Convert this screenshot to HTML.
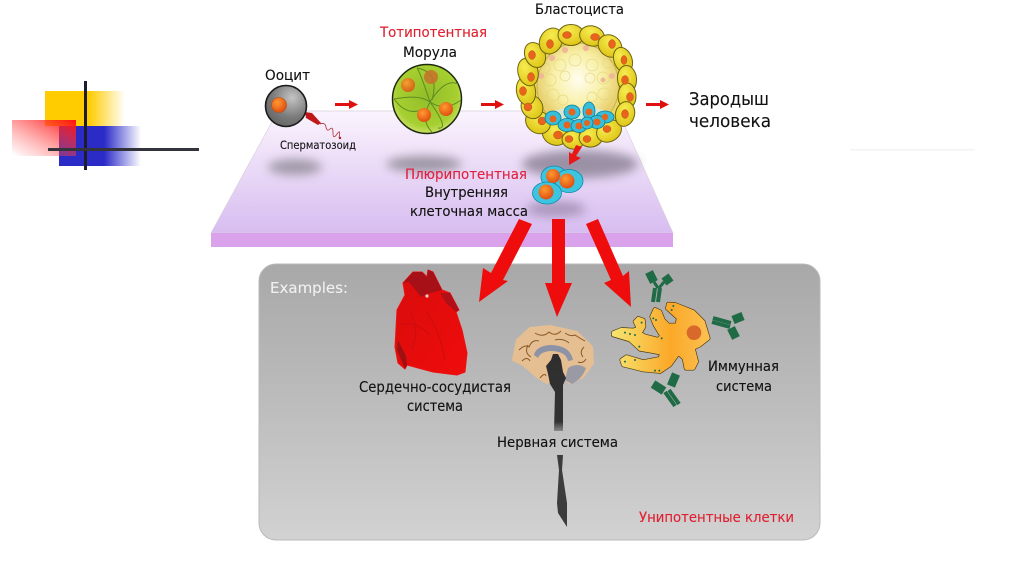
<!DOCTYPE html>
<html><head><meta charset="utf-8"><style>
html,body{margin:0;padding:0;background:#fff;width:1024px;height:574px;overflow:hidden}
svg{display:block}
text{font-family:"DejaVu Sans","Liberation Sans",sans-serif;stroke:currentColor;stroke-width:.12}
</style></head><body>
<svg width="1024" height="574" viewBox="0 0 1024 574" xmlns="http://www.w3.org/2000/svg">
<defs>
<linearGradient id="y" x1="0" x2="1" y1="0" y2="0"><stop offset=".55" stop-color="#ffcc00"/><stop offset="1" stop-color="#ffcc00" stop-opacity="0"/></linearGradient>
<linearGradient id="b" x1="0" x2="1" y1="0" y2="0"><stop offset=".55" stop-color="#2b2bc8"/><stop offset="1" stop-color="#2b2bc8" stop-opacity="0"/></linearGradient>
<linearGradient id="r" x1="1" x2="0" y1="0" y2="1"><stop offset="0" stop-color="#ff1010"/><stop offset=".9" stop-color="#ff6060" stop-opacity=".12"/><stop offset="1" stop-color="#fff" stop-opacity="0"/></linearGradient>
<linearGradient id="pl" x1="0" x2="0" y1="0" y2="1"><stop offset="0" stop-color="#fbf4fd"/><stop offset="1" stop-color="#d7bdf0"/></linearGradient>
<linearGradient id="pn" x1="0" x2="0" y1="0" y2="1"><stop offset="0" stop-color="#a9a8a9"/><stop offset=".5" stop-color="#bdbcbd"/><stop offset="1" stop-color="#d2d2d2"/></linearGradient>
<radialGradient id="gr" cx=".65" cy=".3" r=".85"><stop offset="0" stop-color="#c4c4c4"/><stop offset=".55" stop-color="#7c7c7c"/><stop offset="1" stop-color="#5c5c5c"/></radialGradient>
<radialGradient id="or" cx=".4" cy=".35" r=".7"><stop offset="0" stop-color="#ff9a30"/><stop offset="1" stop-color="#dd4a10"/></radialGradient>
<radialGradient id="gn" cx=".5" cy=".45" r=".55"><stop offset="0" stop-color="#92bd28"/><stop offset=".8" stop-color="#a6cf30"/><stop offset="1" stop-color="#cbe066"/></radialGradient>
<radialGradient id="blast" cx=".5" cy=".42" r=".5"><stop offset="0" stop-color="#fffdf0"/><stop offset=".6" stop-color="#f8f0a8"/><stop offset="1" stop-color="#e8d070"/></radialGradient>
<radialGradient id="cell" cx=".4" cy=".3" r=".8"><stop offset="0" stop-color="#f6ec50"/><stop offset="1" stop-color="#dcc010"/></radialGradient>
<linearGradient id="im" gradientUnits="userSpaceOnUse" x1="100" x2="385" y1="0" y2="0"><stop offset="0" stop-color="#f6e470"/><stop offset=".6" stop-color="#fba828"/><stop offset="1" stop-color="#fbc050"/></linearGradient>
<linearGradient id="sp" x1="0" x2="0" y1="0" y2="1"><stop offset="0" stop-color="#2e2e2e"/><stop offset=".88" stop-color="#333"/><stop offset="1" stop-color="#888"/></linearGradient>
<linearGradient id="hr" x1="0" x2="1" y1="0" y2="1"><stop offset="0" stop-color="#d80c0c"/><stop offset="1" stop-color="#f00c0c"/></linearGradient>
<filter id="bl" x="-30%" y="-60%" width="160%" height="220%"><feGaussianBlur stdDeviation="5"/></filter>
<filter id="s"><feGaussianBlur stdDeviation=".35"/></filter>
</defs>

<!-- deco -->
<rect x="45" y="91" width="80" height="35" fill="url(#y)"/>
<rect x="59" y="126" width="82" height="40" fill="url(#b)"/>
<rect x="12" y="120" width="64" height="36" fill="url(#r)"/>
<rect x="84" y="81" width="3" height="89" fill="#1c1c2a"/>
<rect x="48" y="148" width="151" height="3" fill="#33333c"/>
<rect x="850" y="149" width="125" height="1.500" fill="#f3f3f3"/>

<!-- platform -->
<polygon points="278,111 618,111 673,233 211,233" fill="url(#pl)" stroke="#d9d0de" stroke-width=".7"/>
<rect x="211" y="233" width="462" height="14" fill="#d9a2ea"/>
<ellipse cx="295" cy="167" rx="27" ry="8" fill="#8f8a95" opacity=".8" filter="url(#bl)"/>
<ellipse cx="424" cy="164" rx="38" ry="8" fill="#8f8a95" opacity=".85" filter="url(#bl)"/>
<ellipse cx="580" cy="164" rx="58" ry="14" fill="#8e8498" opacity=".85" filter="url(#bl)"/>
<ellipse cx="556" cy="209" rx="30" ry="8" fill="#9a88aa" opacity=".75" filter="url(#bl)"/>

<!-- gray panel -->
<rect x="259" y="264" width="561" height="276" rx="17" fill="url(#pn)" stroke="#b9b9b9" stroke-width="1"/>
<text x="270" y="293" font-size="15" fill="#f0f0f0" color="#f0f0f0" textLength="78" lengthAdjust="spacingAndGlyphs">Examples:</text>

<!-- oocyte -->
<path d="M305,112 L312,113 L321,123 L318,125 L306,118 Z" fill="#c01818"/>
<path d="M320,124 q5,-2 6,3 t4,2 t3,4 t4,1 t2,4" fill="none" stroke="#b03030" stroke-width=".8"/>
<circle cx="340" cy="138" r="1.200" fill="#b02020"/>
<circle cx="286" cy="106" r="20.500" fill="url(#gr)" stroke="#1a1a1a" stroke-width="1.600"/>
<circle cx="279" cy="105" r="7.500" fill="url(#or)" stroke="#b84a10" stroke-width=".6"/>
<text x="265" y="80" font-size="14.500" fill="#111" color="#111" textLength="45" lengthAdjust="spacingAndGlyphs">Ооцит</text>
<text x="280" y="149" font-size="11.500" fill="#111" color="#111" textLength="76" lengthAdjust="spacingAndGlyphs">Сперматозоид</text>

<!-- morula -->
<circle cx="427" cy="99" r="34.500" fill="url(#gn)" stroke="#1e2a10" stroke-width="1.500"/>
<path d="M394,99 Q420,94 430,102 Q420,72 417,68 M430,102 Q445,78 458,84 M430,102 Q445,112 461,100 M430,102 Q420,120 432,132 M394,99 Q408,118 425,108 M430,102 Q450,130 438,128 M417,68 Q440,72 432,100" fill="none" stroke="#5d8a22" stroke-width="1"/>
<circle cx="408" cy="85" r="7" fill="url(#or)" opacity=".85"/>
<circle cx="431" cy="77" r="7" fill="#c8702c" opacity=".85"/>
<circle cx="446" cy="109" r="7" fill="url(#or)"/>
<circle cx="424" cy="115" r="7" fill="url(#or)"/>
<text x="380" y="37" font-size="14.500" fill="#e02030" color="#e02030" textLength="107" lengthAdjust="spacingAndGlyphs">Тотипотентная</text>
<text x="403" y="57" font-size="14.500" fill="#111" color="#111" textLength="54" lengthAdjust="spacingAndGlyphs">Морула</text>

<!-- small arrows -->
<g fill="#e01010">
<path d="M335,103h14v-3l9,4.500l-9,4.500v-3h-14z"/>
<path d="M481,103h14v-3l9,4.500l-9,4.500v-3h-14z"/>
<path d="M646,103h14v-3l9,4.500l-9,4.500v-3h-14z"/>
</g>

<!-- blastocyst -->
<circle cx="577" cy="87" r="51" fill="#e8d860" stroke="#8a7a10" stroke-width="1"/>
<ellipse cx="578" cy="86" rx="41" ry="43" fill="url(#blast)" stroke="#c8b050" stroke-width="1"/>
<g fill="none" stroke="#e4d478" stroke-width=".7" opacity=".8">
<circle cx="560" cy="65" r="6"/><circle cx="575" cy="60" r="6"/><circle cx="592" cy="65" r="6"/><circle cx="603" cy="78" r="6"/><circle cx="550" cy="80" r="6"/><circle cx="553" cy="95" r="6"/><circle cx="604" cy="94" r="6"/><circle cx="565" cy="76" r="5"/><circle cx="590" cy="78" r="5"/><circle cx="563" cy="100" r="5"/><circle cx="592" cy="97" r="5"/><circle cx="545" cy="68" r="5"/><circle cx="608" cy="63" r="5"/>
</g>
<g fill="#efb898"><circle cx="565" cy="50" r="3"/><circle cx="552" cy="58" r="3"/><circle cx="586" cy="48" r="3"/><circle cx="612" cy="76" r="3"/><circle cx="603" cy="80" r="2.500"/><circle cx="541" cy="76" r="3"/></g>
<!-- outer cells -->
<g stroke="#6d6510" stroke-width="1" fill="url(#cell)">
<ellipse cx="555" cy="134" rx="13" ry="11" transform="rotate(25 555 134)"/>
<ellipse cx="573" cy="140" rx="11" ry="9" transform="rotate(10 573 140)"/>
<ellipse cx="591" cy="137" rx="12" ry="10" transform="rotate(-10 591 137)"/>
<ellipse cx="609" cy="131" rx="13" ry="10.500" transform="rotate(-30 609 131)"/>
<ellipse cx="538" cy="122" rx="13" ry="11" transform="rotate(35 538 122)"/>
<ellipse cx="532" cy="107" rx="10.500" ry="12" transform="rotate(-30 532 107)"/>
<ellipse cx="526" cy="91" rx="9.500" ry="14" transform="rotate(-10 526 91)"/>
<ellipse cx="528" cy="72" rx="10" ry="14" transform="rotate(-15 528 72)"/>
<ellipse cx="535" cy="55" rx="10" ry="13" transform="rotate(-25 535 55)"/>
<ellipse cx="551" cy="41" rx="11" ry="13.500" transform="rotate(30 551 41)"/>
<ellipse cx="571" cy="35" rx="13" ry="10.500"/>
<ellipse cx="592" cy="36" rx="12.500" ry="10" transform="rotate(15 592 36)"/>
<ellipse cx="610" cy="46" rx="12.500" ry="10.500" transform="rotate(35 610 46)"/>
<ellipse cx="623" cy="60" rx="9" ry="13" transform="rotate(-20 623 60)"/>
<ellipse cx="627" cy="79" rx="9.500" ry="13.500" transform="rotate(-5 627 79)"/>
<ellipse cx="627" cy="96" rx="9" ry="13"/>
<ellipse cx="625" cy="114" rx="9.500" ry="12.500" transform="rotate(15 625 114)"/>
</g>
<g fill="#e8641c" stroke="#b04a10" stroke-width=".4">
<ellipse cx="523" cy="91" rx="3.500" ry="4.500"/><ellipse cx="531" cy="77" rx="3.500" ry="4.500"/><ellipse cx="532" cy="55" rx="3.500" ry="4.500"/><ellipse cx="550" cy="44" rx="3.500" ry="4.500"/><ellipse cx="567" cy="35" rx="4.500" ry="3.500"/><ellipse cx="595" cy="37" rx="4.500" ry="3.500"/><ellipse cx="612" cy="44" rx="3.500" ry="4.500"/><ellipse cx="624" cy="60" rx="3" ry="4.500"/><ellipse cx="625" cy="80" rx="3.500" ry="4.500"/><ellipse cx="630" cy="97" rx="3.500" ry="4.500"/><ellipse cx="625" cy="114" rx="3.500" ry="4.500"/><ellipse cx="607" cy="129" rx="4" ry="3.500"/><ellipse cx="587" cy="139" rx="4" ry="3.500"/><ellipse cx="569" cy="139" rx="4" ry="3.500"/><ellipse cx="558" cy="135" rx="4.500" ry="4"/><ellipse cx="542" cy="121" rx="4" ry="4"/><ellipse cx="528" cy="107" rx="4" ry="4"/>
</g>
<!-- ICM -->
<ellipse cx="580" cy="115" rx="30" ry="8" fill="#d5eaea" opacity=".8" filter="url(#s)"/>
<g stroke="#0e7e98" stroke-width=".8" fill="#35bfdb">
<ellipse cx="553" cy="118" rx="8" ry="7"/><ellipse cx="605" cy="117" rx="9" ry="6"/><ellipse cx="572" cy="112" rx="8" ry="7"/><ellipse cx="589" cy="111" rx="6" ry="9"/><ellipse cx="567" cy="125" rx="9" ry="6.500"/><ellipse cx="579" cy="126" rx="8" ry="6.500"/><ellipse cx="597" cy="122" rx="8" ry="6.500"/><ellipse cx="587" cy="123" rx="6" ry="6"/>
</g>
<g fill="#e8641c"><circle cx="553" cy="119" r="3.500"/><circle cx="605" cy="117" r="3.200"/><circle cx="572" cy="112" r="3.500"/><circle cx="589" cy="112" r="3.500"/><circle cx="567" cy="125" r="3.500"/><circle cx="579" cy="126" r="3.500"/><circle cx="597" cy="122" r="3.500"/><circle cx="587" cy="123" r="3"/></g>
<text x="535" y="14" font-size="14" fill="#111" color="#111" textLength="89" lengthAdjust="spacingAndGlyphs">Бластоциста</text>

<text x="689" y="105" font-size="18" fill="#111" color="#111" textLength="80" lengthAdjust="spacingAndGlyphs">Зародыш</text>
<text x="689" y="127" font-size="18" fill="#111" color="#111" textLength="82" lengthAdjust="spacingAndGlyphs">человека</text>

<!-- arrow blast to ICM -->
<path d="M576,145 L582,147 L576,156 L581,158 L569,165 L569,152 L572,154 Z" fill="#e81818"/>

<!-- ICM cluster -->
<g stroke="#0e8aa5" stroke-width=".8" fill="#3cc4e0">
<ellipse cx="554" cy="177" rx="13" ry="11"/>
<ellipse cx="569" cy="181" rx="14" ry="11.500"/>
<ellipse cx="547" cy="193" rx="14.500" ry="11"/>
</g>
<circle cx="553" cy="176" r="7" fill="url(#or)"/>
<circle cx="567" cy="181" r="7.500" fill="url(#or)"/>
<circle cx="546" cy="192" r="7.500" fill="url(#or)"/>

<text x="405" y="179" font-size="14" fill="#e02040" color="#e02040" textLength="122" lengthAdjust="spacingAndGlyphs">Плюрипотентная</text>
<text x="425" y="197" font-size="14" fill="#111" color="#111" textLength="83" lengthAdjust="spacingAndGlyphs">Внутренняя</text>
<text x="410" y="216" font-size="14" fill="#111" color="#111" textLength="118" lengthAdjust="spacingAndGlyphs">клеточная масса</text>

<!-- big arrows -->
<g fill="#ee0c0c">
<path d="M519,219 L532,224 L503,280 L508,281 L479,302 L483,268 L491,273 Z"/>
<path d="M552,219 L565,219 L565,283 L572,283 L557,317 L545,283 L552,283 Z"/>
<path d="M586,224 L598,219 L623,276 L629,271 L631,307 L604,283 L611,280 Z"/>
</g>

<!-- heart -->
<path d="M413,272 L403,283 L405,295 L397,310 L395,347 L398,363 L405,369 L407,365 L433,372 L457,375 L465,372 L467,353 L462,330 L456,312 L459,310 L450,293 L442,290 L433,272 L428,270 L427,277 L422,272 L415,272 Z" fill="url(#hr)" stroke="#ee1010" stroke-width="1" stroke-linejoin="round"/>
<path d="M413,272 L403,283 L409,282 L421,297 L427,294 L442,290 L433,272 L428,270 L427,277 L422,272 L415,272 Z" fill="#a81018"/>
<path d="M450,293 L459,310 L456,312 L446,303 L440,293 Z" fill="#b01018"/>
<path d="M397,350 L405,369 L407,365 L406,356 L398,340 Z" fill="#a01010"/>
<circle cx="427" cy="296" r="1.600" fill="#eec8c8"/>
<path d="M410,310 Q420,330 412,350 M425,310 Q440,330 445,360 M400,325 Q415,320 430,335" fill="none" stroke="#cc0c10" stroke-width="1"/>
<text x="359" y="392" font-size="15" fill="#111" color="#111" textLength="152" lengthAdjust="spacingAndGlyphs">Сердечно-сосудистая</text>
<text x="407" y="411" font-size="15" fill="#111" color="#111" textLength="56" lengthAdjust="spacingAndGlyphs">система</text>

<!-- brain -->
<path d="M513,360 L517,340 L530,328 L550,326 L577,332 L592,347 L593,363 L583,377 L570,383 L563,377 L547,383 L537,377 L523,365 Z" fill="#e5bf92" stroke="#e5bf92" stroke-width="2" stroke-linejoin="round"/>
<path d="M519,350 q6,-6 10,-3 q3,-8 10,-6 M535,333 q8,5 14,-1 q6,5 12,-1 M565,333 q6,4 10,2 q6,4 10,6 M584,347 q-5,5 -1,10 M522,361 q5,-5 8,0 M578,362 q5,2 8,-3 M528,345 q-4,8 3,12 M540,378 q5,-6 6,-2 M555,340 q8,-2 14,3" fill="none" stroke="#8a5a28" stroke-width="1"/>
<path d="M534,355 Q536,346 550,345 Q570,345 573,360 L568,361 Q566,351 550,351 Q540,352 538,358 Z" fill="#8d93a6"/>
<path d="M568,368 Q577,362 586,368 Q583,378 572,384 L565,380 Z" fill="#9a9aa4"/>
<path d="M546,366 L551,360 L553,354 L558,354 L561,360 L563,372 L566,378 L563,385 L563,431 L554,431 L555,392 L550,384 L548,374 Z" fill="url(#sp)"/>
<path d="M557,455 L563,455 L562,470 L567,503 L567,527 L558,513 L557,503 L559,470 Z" fill="#3c3c3c"/>
<text x="497" y="447" font-size="14.500" fill="#111" color="#111" textLength="121" lengthAdjust="spacingAndGlyphs">Нервная система</text>

<!-- immune cell -->
<g transform="translate(580,250) scale(.3333)">
<path d="M100,248 L125,238 L160,240 L175,235 L165,215 L175,205 L190,210 L192,230 L180,250 L195,258 L235,268 L245,258 L225,225 L215,200 L225,178 L240,185 L250,210 L265,225 L290,225 L295,205 L262,175 L265,162 L285,163 L340,185 L370,215 L385,265 L360,285 L340,295 L350,335 L340,355 L318,355 L312,325 L295,310 L270,345 L240,365 L190,360 L130,345 L125,330 L140,320 L190,335 L240,325 L245,310 L220,305 L180,298 L150,270 L100,255 Z" fill="none" stroke="#4a3a10" stroke-width="13" stroke-linejoin="round"/>
<path d="M100,248 L125,238 L160,240 L175,235 L165,215 L175,205 L190,210 L192,230 L180,250 L195,258 L235,268 L245,258 L225,225 L215,200 L225,178 L240,185 L250,210 L265,225 L290,225 L295,205 L262,175 L265,162 L285,163 L340,185 L370,215 L385,265 L360,285 L340,295 L350,335 L340,355 L318,355 L312,325 L295,310 L270,345 L240,365 L190,360 L130,345 L125,330 L140,320 L190,335 L240,325 L245,310 L220,305 L180,298 L150,270 L100,255 Z" fill="url(#im)" stroke="url(#im)" stroke-width="9" stroke-linejoin="round"/>
<circle cx="342" cy="248" r="22" fill="#d8692a"/>
<g fill="#1f6b45"><circle cx="135" cy="248" r="3"/><circle cx="150" cy="252" r="3"/><circle cx="165" cy="255" r="3"/><circle cx="185" cy="218" r="3"/><circle cx="220" cy="205" r="3"/><circle cx="228" cy="210" r="3"/><circle cx="245" cy="265" r="3"/><circle cx="178" cy="290" r="3"/><circle cx="135" cy="335" r="3"/><circle cx="165" cy="330" r="3"/><circle cx="225" cy="362" r="3"/><circle cx="238" cy="362" r="3"/><circle cx="280" cy="168" r="3"/><circle cx="275" cy="180" r="3"/></g>
</g>

<!-- antibodies -->
<g fill="none" stroke="#1f6b45">
<path d="M649,272 L654,282 M671,277 L664,282" stroke-width="8.500"/>
<path d="M654,282 L658,288 M664,282 L659,288" stroke-width="3"/>
<path d="M655,288 L653,302 M660,288 L658,302" stroke-width="4"/>
<path d="M713,318 L731,323 M712,322 L730,327" stroke-width="4"/>
<path d="M733,320 L743,316 M731,328 L736,338" stroke-width="8.500"/>
<path d="M669,390 L679,404 M665,392 L675,406" stroke-width="4"/>
<path d="M653,384 L664,391 M676,374 L671,386" stroke-width="8.500"/>
</g>
<text x="708" y="371" font-size="14" fill="#111" color="#111" textLength="71" lengthAdjust="spacingAndGlyphs">Иммунная</text>
<text x="716" y="391" font-size="14" fill="#111" color="#111" textLength="56" lengthAdjust="spacingAndGlyphs">система</text>

<text x="639" y="522" font-size="14" fill="#e02030" color="#e02030" textLength="155" lengthAdjust="spacingAndGlyphs">Унипотентные клетки</text>
</svg>
</body></html>
